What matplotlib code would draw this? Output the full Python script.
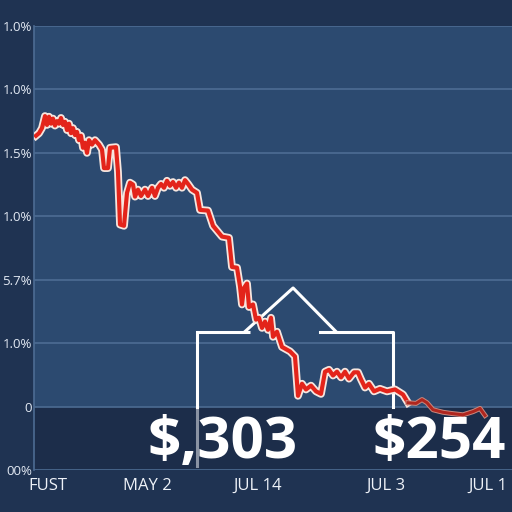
import matplotlib.pyplot as plt
import matplotlib.patheffects as pe

plt.rcParams['font.family'] = ['Open Sans', 'DejaVu Sans']

# price line (days, value in axis units)
days = [0.42, 1.05, 1.67, 2.30, 2.72, 3.14, 3.56, 3.97, 4.39, 4.81, 5.23, 5.65,
        6.07, 6.49, 6.90, 7.32, 7.74, 8.16, 8.58, 9.00, 9.41, 9.83, 10.25, 10.67,
        11.09, 11.51, 12.13, 12.76, 13.60, 14.23, 14.64, 15.48, 15.90, 17.15,
        17.57, 17.99, 18.83, 19.46, 20.08, 20.71, 21.13, 21.76, 22.38, 23.22,
        23.85, 24.69, 25.31, 25.94, 26.57, 27.20, 27.82, 28.45, 29.08, 29.71,
        30.33, 30.96, 31.59, 32.22, 33.05, 34.10, 34.73, 36.40, 37.45, 39.33,
        40.79, 41.42, 42.47, 43.10, 43.51, 43.93, 44.56, 44.98, 45.82, 46.44,
        47.07, 47.70, 48.33, 48.95, 49.58, 50.00, 50.84, 51.88, 53.56, 54.60,
        55.23, 56.07, 56.90, 57.95, 59.00, 60.04, 60.88, 61.72, 62.55, 63.39,
        64.23, 65.06, 65.90, 66.95, 67.78, 68.41, 69.25, 70.08, 71.13, 72.38,
        73.85, 75.52, 77.20, 78.24]
values = [4.27, 4.31, 4.39, 4.58, 4.44, 4.57, 4.46, 4.54, 4.43, 4.50, 4.46, 4.55,
          4.44, 4.49, 4.36, 4.46, 4.31, 4.39, 4.28, 4.33, 4.20, 4.27, 4.08, 4.16,
          4.00, 4.20, 4.13, 4.20, 4.13, 4.05, 3.76, 3.76, 4.08, 4.09,
          3.70, 2.87, 2.85, 3.37, 3.53, 3.50, 3.31, 3.42, 3.32, 3.42,
          3.32, 3.45, 3.32, 3.45, 3.51, 3.45, 3.56, 3.48, 3.54, 3.45,
          3.53, 3.45, 3.57, 3.51, 3.42, 3.37, 3.10, 3.09, 2.85, 2.68,
          2.66, 2.20, 2.19, 1.89, 1.61, 1.87, 1.94, 1.57, 1.61, 1.37,
          1.40, 1.24, 1.34, 1.21, 1.40, 1.10, 1.18, 0.94, 0.87, 0.79,
          0.17, 0.36, 0.27, 0.33, 0.24, 0.20, 0.55, 0.58, 0.49, 0.55,
          0.46, 0.55, 0.44, 0.54, 0.54, 0.43, 0.30, 0.36, 0.24, 0.28,
          0.24, 0.27, 0.19, 0.06]
tail_days = [78.24, 79.92, 81.17, 82.22, 83.47, 85.56, 87.45, 89.75, 91.84, 93.31, 94.35]
tail_values = [0.06, 0.05, 0.11, 0.06, -0.05, -0.09, -0.11, -0.13, -0.08, -0.03, -0.14]

# overlay outline (house shape)
house_x = [34.1, 34.1, 45.2]
house_y = [-0.93, 1.18, 1.18]
roof_x = [44.1, 54.2, 63.2]
roof_y = [1.18, 1.87, 1.18]
right_x = [59.8, 75.1, 75.1]
right_y = [1.18, 1.18, 0.0]

y_ticks = [-1, 0, 1, 2, 3, 4, 5, 6]
y_labels = ['00%', '0', '1.0%', '5.7%', '1.0%', '1.5%', '1.0%', '1.0%']
x_ticks = [2.9, 23.8, 46.9, 73.6, 95.0]
x_labels = ['FUST', 'MAY 2', 'JUL 14', 'JUL 3', 'JUL 1']
price_labels = ['$,303', '$254']
price_x = [39.5, 84.7]

fig = plt.figure(figsize=(5.12, 5.12), dpi=100, facecolor='#1f3352')
ax = fig.add_axes([34 / 512, 42 / 512, 478 / 512, 444 / 512])
ax.set_facecolor('#2c4a70')
ax.set_xlim(0, 100)
ax.set_ylim(-1, 6)

ax.axhspan(-1, 0, color='#1c2d4a', zorder=0.5)
for t in y_ticks:
    ax.axhline(t, color='#4d6c93', lw=1.2, zorder=1)

ax.set_yticks(y_ticks)
ax.set_yticklabels(y_labels)
ax.set_xticks(x_ticks)
ax.set_xticklabels(x_labels)
ax.tick_params(axis='y', length=0, pad=1.5, labelsize=9.5, labelcolor='#e2e9f3')
ax.tick_params(axis='x', length=0, pad=6, labelsize=12, labelcolor='#eef2f8')
for s in ['top', 'right', 'bottom']:
    ax.spines[s].set_visible(False)
ax.spines['left'].set_color('#4d6c93')
ax.spines['left'].set_linewidth(1.2)

# white outline shape
ax.plot(house_x[1:], house_y[1:], color='white', lw=2.2, zorder=3, solid_capstyle='butt')
ax.plot([34.1, 34.1], [0, -0.93], color='#8a93a3', lw=2.2, zorder=3)
ax.plot([34.1, 34.1], [1.18, 0], color='white', lw=2.2, zorder=3)
ax.plot(roof_x, roof_y, color='white', lw=2.2, zorder=3)
ax.plot(right_x, right_y, color='white', lw=2.2, zorder=3)

# price line
ax.plot(days, values, color='#e3241a', lw=3.0, zorder=4,
        path_effects=[pe.Stroke(linewidth=5.6, foreground='#f6e6df'), pe.Normal()])
ax.plot(tail_days, tail_values, color='#b0261e', lw=2.2, zorder=4,
        path_effects=[pe.Stroke(linewidth=3.6, foreground='#c98a80'), pe.Normal()])

for lab, px in zip(price_labels, price_x):
    ax.text(px, -0.58, lab, color='white', fontsize=42, fontweight='bold',
            ha='center', va='center', zorder=5)

fig.savefig('out.png', dpi=100, facecolor=fig.get_facecolor())
